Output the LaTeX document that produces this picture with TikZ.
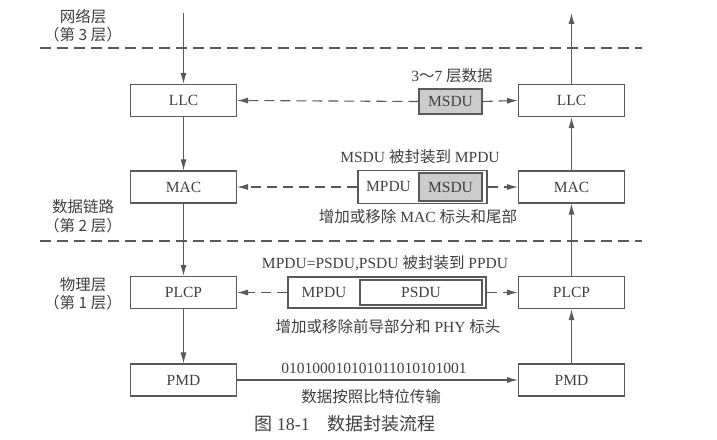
\documentclass[tikz,border=0pt]{standalone}
\usepackage{fontspec}
\setmainfont{Liberation Serif}
\newfontfamily\cjk{Noto Sans CJK SC}
\usetikzlibrary{arrows.meta}
\newcommand{\zh}[1]{{\cjk #1}}
\begin{document}
\begin{tikzpicture}[x=1pt,y=1pt,
  font=\fontsize{15.5}{18}\selectfont,
  layerbox/.style={draw=drawColor,line width=1.1pt,minimum width=106pt,minimum height=32pt,inner sep=0pt,text=textColor},
  pdubox/.style={draw=drawColor,line width=1.1pt,inner sep=0pt},
  sdubox/.style={draw=drawColor,line width=1.1pt,fill=fillColor,inner sep=0pt,text=textColor},
  label/.style={text=textColor,inner sep=0pt},
  flow/.style={draw=drawColor,line width=1.1pt,-{Latex[length=11pt,width=6pt]}},
  dasharrow/.style={flow,dash pattern=on 10pt off 6pt},
  layerline/.style={draw=drawColor,line width=1.1pt,dash pattern=on 11pt off 6pt}]
\definecolor{drawColor}{gray}{0.35}
\definecolor{textColor}{gray}{0.25}
\definecolor{fillColor}{gray}{0.80}
\path[use as bounding box,fill=white] (0,0) rectangle (717,439);

% layer separators and layer names
\path[layerline] (40,391) -- (642,391);
\path[layerline] (40,198) -- (642,198);
\node[label] (net1) at (83,422) {\zh{网络层}};
\node[label] (net2) at (83,404) {\zh{（第 3 层）}};
\node[label] (link1) at (83,232) {\zh{数据链路}};
\node[label] (link2) at (83,213) {\zh{（第 2 层）}};
\node[label] (phy1) at (83,154) {\zh{物理层}};
\node[label] (phy2) at (83,136) {\zh{（第 1 层）}};

% sender and receiver stacks
\coordinate (netin) at (183.5,426);
\coordinate (netout) at (571.5,426);
\node[layerbox] (llcL) at (183.5,338.5) {LLC};
\node[layerbox] (macL) at (183.5,252) {MAC};
\node[layerbox] (plcpL) at (183.5,146.5) {PLCP};
\node[layerbox] (pmdL) at (183.5,59) {PMD};
\node[layerbox] (llcR) at (571.5,338.5) {LLC};
\node[layerbox] (macR) at (571.5,252) {MAC};
\node[layerbox] (plcpR) at (571.5,146.5) {PLCP};
\node[layerbox] (pmdR) at (571.5,59) {PMD};

\draw[flow] (netin) -- (llcL.north);
\draw[flow] (llcL.south) -- (macL.north);
\draw[flow] (macL.south) -- (plcpL.north);
\draw[flow] (plcpL.south) -- (pmdL.north);
\draw[flow] (pmdR.north) -- (plcpR.south);
\draw[flow] (plcpR.north) -- (macR.south);
\draw[flow] (macR.north) -- (llcR.south);
\draw[flow] (llcR.north) -- (netout);

% LLC row
\node[sdubox,minimum width=63pt,minimum height=25pt] (msduT) at (450.5,337.5) {MSDU};
\node[label] (msduTlab) at (452,363) {3\zh{～}7 \zh{层数据}};
\draw[dasharrow] (msduT.west) -- (llcL.east);
\draw[dasharrow] (msduT.east) -- (llcR.west);

% MAC row
\node[pdubox,minimum width=129pt,minimum height=33pt] (mpduM) at (422.5,252) {};
\node[sdubox,minimum width=63pt,minimum height=28pt] (msduM) at (450.5,252) {MSDU};
\node[label] (mpduMtxt) at (388.5,252) {MPDU};
\node[label] (mpduMtop) at (420,282) {MSDU \zh{被封装到} MPDU};
\node[label] (mpduMbot) at (418,222) {\zh{增加或移除} MAC \zh{标头和尾部}};
\draw[dasharrow] (mpduM.west) -- (macL.east);
\draw[dasharrow] (mpduM.east) -- (macR.west);

% PLCP row
\node[pdubox,minimum width=198pt,minimum height=31pt] (ppduP) at (387,146.5) {};
\node[pdubox,minimum width=122pt,minimum height=25pt,text=textColor] (psduP) at (421,146.5) {PSDU};
\node[label] (ppduPtxt) at (324,146.5) {MPDU};
\node[label] (ppduPtop) at (385,176) {MPDU=PSDU,PSDU \zh{被封装到} PPDU};
\node[label] (ppduPbot) at (388,112) {\zh{增加或移除前导部分和} PHY \zh{标头}};
\draw[dasharrow] (ppduP.west) -- (plcpL.east);
\draw[dasharrow] (ppduP.east) -- (plcpR.west);

% PMD row
\draw[flow] (pmdL.east) -- (pmdR.west);
\node[label] (bits) at (374,71) {010100010101011010101001};
\node[label] (bitslab) at (371,42) {\zh{数据按照比特位传输}};

% caption
\node[label,font=\fontsize{18}{21}\selectfont] (caption) at (345,15) {\zh{图} 18-1\hspace{1em}\zh{数据封装流程}};
\end{tikzpicture}
\end{document}
